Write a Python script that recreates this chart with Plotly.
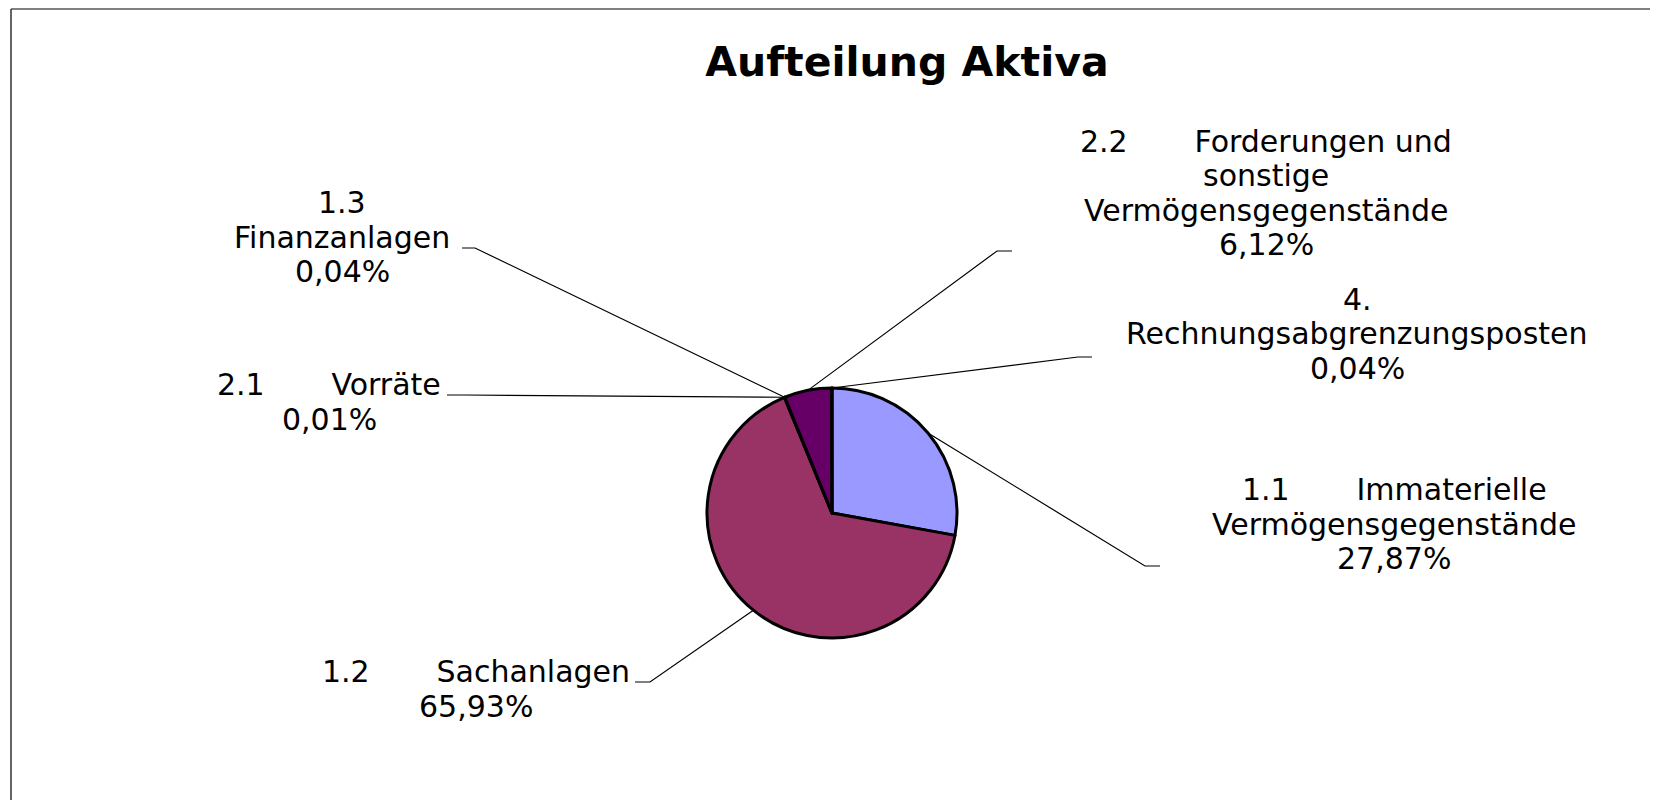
import math
import plotly.graph_objects as go

W, H = 1658, 808
OFF = 8  # default body margin of the html page

# --- data ---------------------------------------------------------------
categories = [
    "1.1 Immaterielle Vermögensgegenstände",
    "1.2 Sachanlagen",
    "1.3 Finanzanlagen",
    "2.1 Vorräte",
    "2.2 Forderungen und sonstige Vermögensgegenstände",
    "4. Rechnungsabgrenzungsposten",
]
shares = [27.87, 65.93, 0.04, 0.01, 6.12, 0.04]
colors = ["#9999FF", "#993366", "#FFFFCC", "#CCFFFF", "#660066", "#FF8080"]

TAB = "\u00a0" * 7
label_lines = [
    ["1.1" + TAB + "Immaterielle", "Vermögensgegenstände"],
    ["1.2" + TAB + "Sachanlagen"],
    ["1.3", "Finanzanlagen"],
    ["2.1" + TAB + "Vorräte"],
    ["2.2" + TAB + "Forderungen und", "sonstige", "Vermögensgegenstände"],
    ["4.", "Rechnungsabgrenzungsposten"],
]

# label block centres and leader knees, in page pixels (x_text_end, x_knee, y)
label_pos = [(1394, 524), (476, 689), (342, 237), (329, 402), (1266, 193), (1357, 334)]
leader_knee = [(1160, 1145, 566), (635, 650, 682), (462, 475, 248),
               (447, 465, 395), (1012, 997, 251), (1092, 1078, 357)]
LINE_STEP = 34.5

# pie geometry (page pixels)
CX, CY, R = 832, 513, 125

FONT = "DejaVu Sans, Arial, sans-serif"
FW, FH = W - 2 * OFF, H - 2 * OFF


def px(x):
    return (x - OFF) / FW


def py(y):
    return 1 - (y - OFF) / FH


fig = go.Figure()
fig.add_trace(go.Pie(
    labels=categories, values=shares, sort=False, direction="clockwise",
    rotation=0, textinfo="none", hole=0,
    marker=dict(colors=colors, line=dict(color="black", width=3)),
    domain=dict(x=[px(CX - R), px(CX + R)], y=[py(CY + R), py(CY - R)]),
    showlegend=False,
))

annotations = []
shapes = []
total = sum(shares)
cum = 0.0
for lines, v, (lx, ly), (x0, x1, ky) in zip(label_lines, shares, label_pos, leader_knee):
    pct = f"{v:.2f}".replace(".", ",") + "%"
    rows = lines + [pct]
    n = len(rows)
    for i, row in enumerate(rows):
        annotations.append(dict(
            text=row, x=px(lx), y=py(ly + (i - (n - 1) / 2) * LINE_STEP),
            xref="paper", yref="paper", xanchor="center", yanchor="middle",
            showarrow=False,
            font=dict(family=FONT, size=30, color="black"),
        ))
    mid = (cum + v / 2) / total * 2 * math.pi
    cum += v
    ex = CX + R * math.sin(mid)
    ey = CY - R * math.cos(mid)
    shapes.append(dict(
        type="path", xref="paper", yref="paper",
        path=f"M {px(x0)},{py(ky)} L {px(x1)},{py(ky)} L {px(ex)},{py(ey)}",
        line=dict(color="black", width=1.2),
    ))

# chart frame
shapes.append(dict(type="line", xref="paper", yref="paper",
                   x0=px(11), y0=py(9), x1=1, y1=py(9),
                   line=dict(color="#808080", width=2)))
shapes.append(dict(type="line", xref="paper", yref="paper",
                   x0=px(11), y0=py(9), x1=px(11), y1=0,
                   line=dict(color="#333333", width=1.5)))

fig.update_layout(
    width=FW, height=FH,
    margin=dict(l=0, r=0, t=0, b=0),
    paper_bgcolor="white", plot_bgcolor="white",
    title=dict(text="<b>Aufteilung Aktiva</b>", x=px(907), xanchor="center",
               y=py(62), yanchor="middle", yref="container",
               font=dict(family=FONT, size=41, color="black")),
    annotations=annotations,
    shapes=shapes,
)

fig.write_html("out.html")
